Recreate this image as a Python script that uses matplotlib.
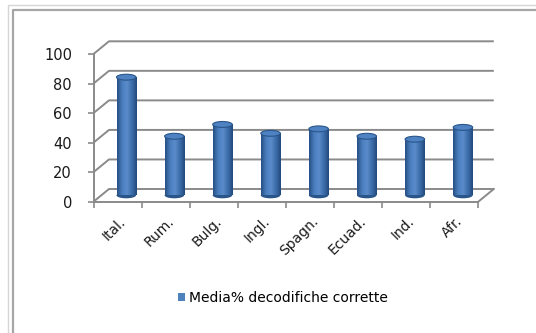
import numpy as np
import matplotlib.pyplot as plt
from matplotlib.patches import Ellipse, Patch
from matplotlib.lines import Line2D
from matplotlib.colors import LinearSegmentedColormap

# dati
categorie = ['Ital.', 'Rum.', 'Bulg.', 'Ingl.', 'Spagn.', 'Ecuad.', 'Ind.', 'Afr.']
media = [80, 40, 48, 42, 45, 40, 38, 46]
yticks = [0, 20, 40, 60, 80, 100]
legenda = 'Media% decodifiche corrette'

# profondita' finta 3d (in unita' dati)
dx, dy = 0.322, 8.6
bar_w = 0.405
grid_col = '#8a8a8a'

plt.rcParams['font.family'] = 'DejaVu Sans'
fig = plt.figure(figsize=(5.36, 3.33), dpi=100)
ax = fig.add_axes([93.5 / 536, (333 - 201.7) / 333, 384.8 / 536, 147.7 / 333])

# pareti: diagonali a sinistra e griglia sul fondo
x0, x1 = -0.5, len(categorie) - 0.5
for v in yticks:
    ax.plot([x0, x0 + dx, x1 + dx], [v, v + dy, v + dy], color=grid_col, lw=1.4,
            clip_on=False, zorder=1, solid_capstyle='butt')
ax.plot([x1, x1 + dx], [0, dy], color=grid_col, lw=1.4, clip_on=False, zorder=1)

# cilindri
cmap = LinearSegmentedColormap.from_list('cil', ['#264f85', '#4a7dbd', '#5a8ccb', '#3d6eab', '#23497d'])
grad = np.linspace(0, 1, 64).reshape(1, -1)
base = dy / 2
xs = np.arange(len(categorie)) + dx / 2 + 0.02
bars = ax.bar(xs, media, width=bar_w, bottom=base, color='#3f72b0', edgecolor='none', zorder=3)
eh = 4.0
for b, xc, v in zip(bars, xs, media):
    bot = Ellipse((xc, base), bar_w, eh, facecolor='#2a5589', edgecolor='none', zorder=2.5)
    ax.add_patch(bot)
    im = ax.imshow(grad, cmap=cmap, aspect='auto', zorder=3.1,
                   extent=(xc - bar_w / 2, xc + bar_w / 2, base, base + v))
    im.set_clip_path(b)
    top = Ellipse((xc, base + v), bar_w, eh, facecolor='#4e82c2', edgecolor='#2a5589',
                  lw=0.8, zorder=4)
    ax.add_patch(top)
ax.set_xlim(-0.5, len(categorie) - 0.5)
ax.set_ylim(0, 100)

# assi
for s in ['top', 'right']:
    ax.spines[s].set_visible(False)
for s in ['left', 'bottom']:
    ax.spines[s].set_color(grid_col)
    ax.spines[s].set_linewidth(1.4)
ax.set_yticks(yticks)
ax.tick_params(axis='y', length=4.5, width=1.2, color=grid_col, pad=11, labelsize=10.5,
               labelcolor='#1a1a1a')
ax.set_xticks(np.arange(len(categorie) + 1) - 0.5)
ax.set_xticklabels([])
ax.tick_params(axis='x', which='major', length=4.5, width=1.2, color=grid_col)
ax.set_xticks(np.arange(len(categorie)) + 0.02, minor=True)
ax.set_xticklabels(categorie, minor=True, rotation=45, ha='right', va='top',
                   rotation_mode='anchor', fontsize=10, color='#1a1a1a')
ax.tick_params(axis='x', which='minor', length=0, pad=9)
ax.set_facecolor('none')

# legenda
ax.legend(handles=[Patch(facecolor='#4f81bd', edgecolor='none')], labels=[legenda],
          loc='center left', bbox_to_anchor=(171 / 536, 1 - 298 / 333),
          bbox_transform=fig.transFigure, frameon=False, fontsize=10,
          handlelength=0.5, handleheight=0.5, handletextpad=0.3, borderpad=0)

# cornice
fig.add_artist(Line2D([8 / 536, 8 / 536, 1], [0, 1 - 5 / 333, 1 - 5 / 333],
                      color='#d6d6d6', lw=1.0, transform=fig.transFigure))
fig.add_artist(Line2D([12.5 / 536, 12.5 / 536, 1], [0, 1 - 10 / 333, 1 - 10 / 333],
                      color='#a6a6a6', lw=1.6, transform=fig.transFigure))

fig.savefig('out.png', dpi=100)
